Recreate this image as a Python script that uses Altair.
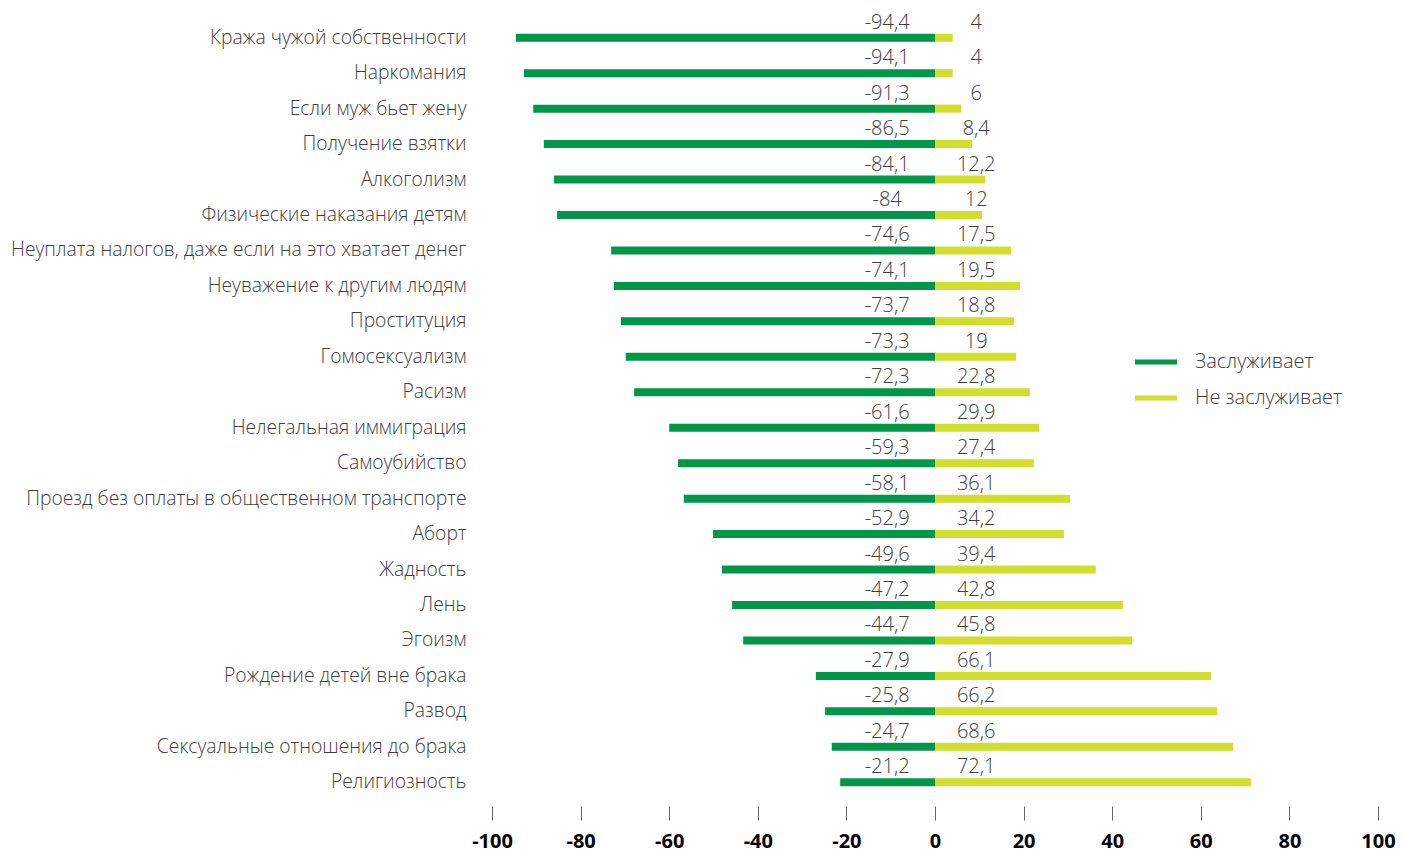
import altair as alt
import pandas as pd

categories = [
    "Кража чужой собственности",
    "Наркомания",
    "Если муж бьет жену",
    "Получение взятки",
    "Алкоголизм",
    "Физические наказания детям",
    "Неуплата налогов, даже если на это хватает денег",
    "Неуважение к другим людям",
    "Проституция",
    "Гомосексуализм",
    "Расизм",
    "Нелегальная иммиграция",
    "Самоубийство",
    "Проезд без оплаты в общественном транспорте",
    "Аборт",
    "Жадность",
    "Лень",
    "Эгоизм",
    "Рождение детей вне брака",
    "Развод",
    "Сексуальные отношения до брака",
    "Религиозность",
]

# value labels as printed
label_deserves = [-94.4, -94.1, -91.3, -86.5, -84.1, -84, -74.6, -74.1, -73.7, -73.3, -72.3,
                  -61.6, -59.3, -58.1, -52.9, -49.6, -47.2, -44.7, -27.9, -25.8, -24.7, -21.2]
label_not = [4, 4, 6, 8.4, 12.2, 12, 17.5, 19.5, 18.8, 19, 22.8,
             29.9, 27.4, 36.1, 34.2, 39.4, 42.8, 45.8, 66.1, 66.2, 68.6, 72.1]

# bar lengths as drawn
bar_deserves = [-94.6, -92.8, -90.7, -88.3, -86.0, -85.3, -73.1, -72.5, -70.9, -69.8, -67.9,
                -60.0, -58.0, -56.7, -50.1, -48.1, -45.8, -43.3, -26.9, -24.8, -23.3, -21.4]
bar_not = [4.0, 4.0, 5.9, 8.4, 11.3, 10.6, 17.2, 19.2, 17.8, 18.3, 21.4,
           23.5, 22.3, 30.5, 29.1, 36.3, 42.4, 44.5, 62.3, 63.7, 67.3, 71.3]

series = ["Заслуживает", "Не заслуживает"]
colors = ["#02964a", "#d2de2c"]
x_ticks = [-100, -80, -60, -40, -20, 0, 20, 40, 60, 80, 100]


def fmt(v):
    return f"{v:g}".replace(".", ",")


rows = []
for i, c in enumerate(categories):
    rows.append({"cat": c, "series": series[0], "bar": bar_deserves[i],
                 "label": fmt(label_deserves[i]), "lx": -10.8})
    rows.append({"cat": c, "series": series[1], "bar": bar_not[i],
                 "label": fmt(label_not[i]), "lx": 9.3})
df = pd.DataFrame(rows)

FONT = "Open Sans"
TXT = "#404040"

y_enc = alt.Y("cat:N", sort=categories, title=None,
              scale=alt.Scale(paddingInner=0, paddingOuter=0),
              axis=alt.Axis(domain=False, ticks=False, labelFont=FONT, labelFontSize=19.3,
                            labelFontWeight=300, labelColor=TXT, labelPadding=26,
                            labelLimit=600, labelBaseline="middle"))

bars = alt.Chart(df).mark_bar(size=8).encode(
    x=alt.X("bar:Q", title=None,
            scale=alt.Scale(domain=[-100, 100], nice=False, zero=True),
            axis=alt.Axis(values=x_ticks, domain=False, grid=False, ticks=True, tickSize=14,
                          offset=6, tickColor="#666666", tickWidth=1, labelFlush=False,
                          labelFont=FONT, labelFontSize=20, labelFontWeight="bold",
                          labelColor="#000000", labelPadding=11,
                          labelExpr="datum.value < 0 ? '-' + abs(datum.value) : '' + datum.value")),
    y=y_enc,
    color=alt.Color("series:N", scale=alt.Scale(domain=series, range=colors), title=None,
                    legend=alt.Legend(orient="none", legendX=643, legendY=332,
                                      symbolType="M-1,-0.12H1V0.12H-1Z", symbolSize=1764,
                                      symbolStrokeWidth=0, clipHeight=20, rowPadding=16,
                                      labelOffset=18, labelFont=FONT, labelFontSize=20,
                                      labelFontWeight=300, labelColor=TXT, padding=0,
                                      labelLimit=400)),
)

labels = alt.Chart(df).mark_text(font=FONT, fontSize=20, fontWeight=300, color=TXT,
                                 align="center", baseline="alphabetic", dy=-9).encode(
    x=alt.X("lx:Q"),
    y=alt.Y("cat:N", sort=categories),
    text="label:N",
)

chart = (bars + labels).properties(
    width=886, height=780,
    autosize=alt.AutoSizeParams(type="none"),
    padding={"left": 484, "top": 12, "right": 25, "bottom": 60},
).configure_view(stroke=None)

chart.save("out.html", embed_options={"renderer": "svg", "actions": False})
